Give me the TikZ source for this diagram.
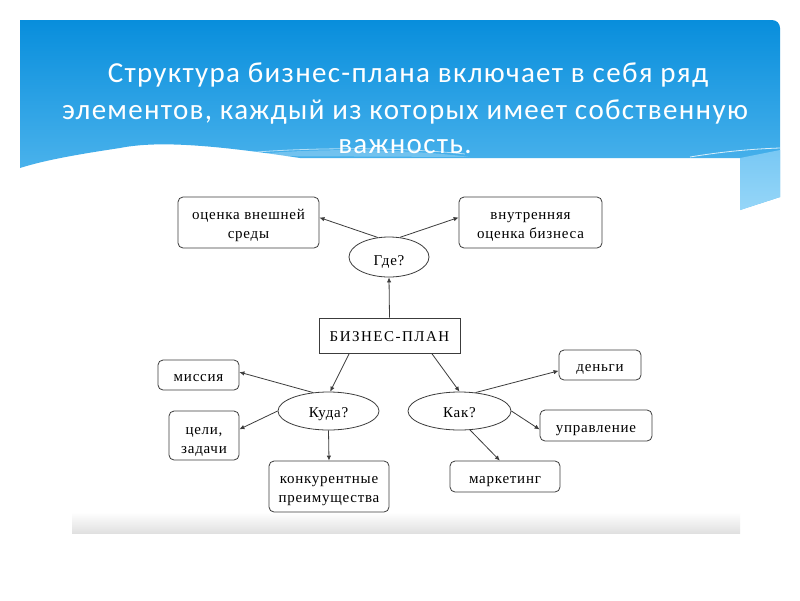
\documentclass[tikz,border=0pt]{standalone}
\usepackage{fontspec}
\setmainfont{Liberation Serif}
\newfontfamily\dfont[LetterSpace=5]{Liberation Serif}
\newfontfamily\pfont[LetterSpace=10]{Liberation Serif}
\newfontfamily\titlefont[LetterSpace=4.5]{Carlito}
\usetikzlibrary{arrows.meta,shapes.geometric}
\definecolor{bluetop}{RGB}{8,142,220}
\definecolor{bluebot}{RGB}{92,188,240}
\definecolor{ribbontop}{RGB}{120,200,244}
\definecolor{ribbonbot}{RGB}{150,214,248}
\definecolor{linegray}{RGB}{60,60,60}
\newcommand\tx[2][3pt]{\raisebox{-#1}[\height][\depth]{\begin{tabular}{@{}c@{}}#2\end{tabular}}}
\tikzset{
  box/.style={draw=linegray, line width=0.8pt, rounded corners=5pt,
    inner sep=0pt, font=\dfont\fontsize{15}{18.5}\selectfont},
  planbox/.style={draw=linegray, line width=0.8pt, inner sep=0pt,
    font=\pfont\fontsize{15}{18.5}\selectfont},
  oval/.style={draw=linegray, line width=0.8pt, ellipse, inner sep=0pt,
    font=\dfont\fontsize{15}{18.5}\selectfont},
  conn/.style={draw=linegray, line width=0.8pt, -{Latex[length=5pt,width=4.5pt]}},
  title/.style={text=white, font=\titlefont\fontsize{29}{34}\selectfont, inner sep=0pt}
}
\begin{document}
\begin{tikzpicture}[x=1pt,y=-1pt]
\useasboundingbox (0,0) rectangle (800,600);
\fill[white] (0,0) rectangle (800,600);
% blue header
\shade[top color=bluetop, bottom color=bluebot]
  (20,20) -- (772,20) to[out=0,in=90] (780,28) -- (780,197) -- (740,210) -- (740,158)
  -- (300,158) .. controls (220,146) and (160,140) .. (120,148)
  .. controls (80,154) and (45,160) .. (20,168) -- cycle;
% right ribbon part
\shade[top color=ribbontop, bottom color=ribbonbot]
  (740,158) -- (780,150) -- (780,197) -- (740,210) -- cycle;
% highlight lines
\draw[white, opacity=0.6, line width=0.8pt]
  (235,154) .. controls (300,147) and (400,147) .. (465,154);
\fill[white, opacity=0.25] (240,156) .. controls (300,148) and (400,148) .. (470,157) -- cycle;
\draw[white, opacity=0.8, line width=0.8pt]
  (690,157) .. controls (720,152) and (750,149) .. (780,148);
% title
\node[title] (t1) at (408,75) {Структура бизнес-плана включает в себя ряд};
\node[title] (t2) at (405,112) {элементов, каждый из которых имеет собственную};
\node[title] (t3) at (405,147) {важность.};
% bottom gray bar
\shade[top color=white, bottom color=black!12] (72,512) rectangle (740,533);
% nodes
\node[box, minimum width=141pt, minimum height=51pt] (vnesh) at (248.5,222.5) {\tx{оценка внешней\\среды}};
\node[box, minimum width=143pt, minimum height=51pt] (vnutr) at (530.5,222.5) {\tx{внутренняя\\оценка бизнеса}};
\node[oval, minimum width=80pt, minimum height=40pt] (gde) at (389,257) {\tx[5pt]{Где?}};
\node[planbox, minimum width=141pt, minimum height=35pt] (plan) at (389.5,335.5) {\tx[2.5pt]{БИЗНЕС-ПЛАН}};
\node[oval, minimum width=101pt, minimum height=38pt] (kuda) at (328.5,411) {\tx{Куда?}};
\node[oval, minimum width=103pt, minimum height=38pt] (kak) at (459.5,411) {\tx{Как?}};
\node[box, minimum width=81pt, minimum height=30pt] (missiya) at (198.5,375) {\tx{миссия}};
\node[box, minimum width=70pt, minimum height=49pt] (celi) at (204,435.5) {\tx[5pt]{цели,\\задачи}};
\node[box, minimum width=120pt, minimum height=51pt] (konk) at (329,486.5) {\tx{конкурентные\\преимущества}};
\node[box, minimum width=82pt, minimum height=30pt] (dengi) at (600,365) {\tx{деньги}};
\node[box, minimum width=112pt, minimum height=31pt] (uprav) at (596,425.5) {\tx{управление}};
\node[box, minimum width=110pt, minimum height=31pt] (mark) at (505,476.5) {\tx{маркетинг}};
% connectors
\draw[conn] (gde.120) -- (vnesh.4);
\draw[conn] (gde.61) -- (vnutr.176);
\draw[conn] (plan.north) -- (gde.south);
\draw[conn] (plan.204) -- (kuda.85);
\draw[conn] (plan.-23) -- (kak.north);
\draw[conn] (kuda.130) -- (missiya.4);
\draw[conn] (kuda.west) -- (celi.10);
\draw[conn] (kuda.south) -- (konk.north);
\draw[conn] (kak.49) -- (dengi.188);
\draw[conn] (kak.east) -- (uprav.184);
\draw[conn] (kak.-61) -- (mark.108);
\end{tikzpicture}
\end{document}
